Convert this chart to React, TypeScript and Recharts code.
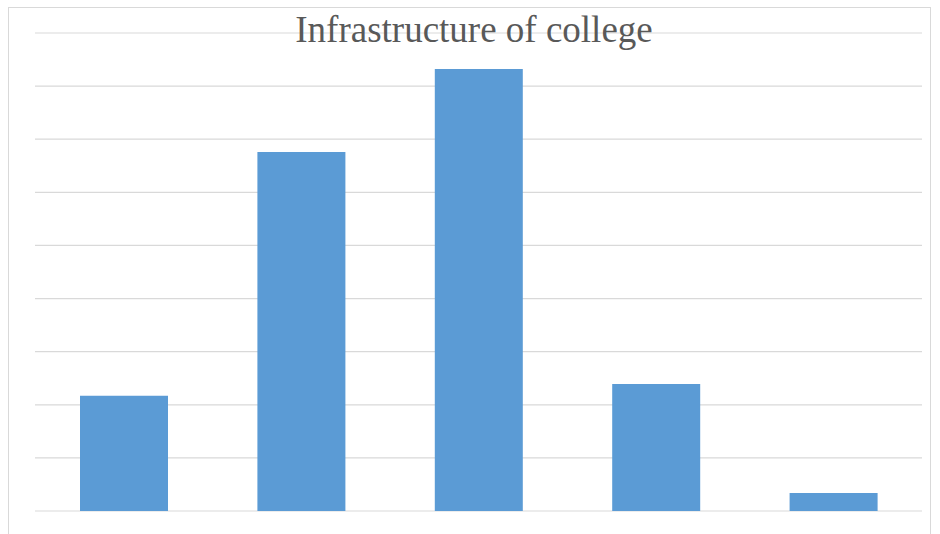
import React from "react";
import { BarChart, Bar, XAxis, YAxis, CartesianGrid } from "recharts";

const categories = ["Category 1", "Category 2", "Category 3", "Category 4", "Category 5"];
const values = [21.7, 67.6, 83.2, 23.9, 3.4];
const yTicks = [0, 10, 20, 30, 40, 50, 60, 70, 80, 90];
const title = "Infrastructure of college";

const data = categories.map((c, i) => ({ name: c, value: values[i] }));

export default function App() {
  return (
    <div style={{ position: "absolute", left: 0, top: 0, width: 940, height: 534, background: "#fff", overflow: "hidden" }}>
      <div
        style={{
          position: "absolute",
          left: 8,
          top: 7,
          width: 923,
          height: 530,
          border: "1px solid #d9d9d9",
          boxSizing: "border-box",
        }}
      />
      <div style={{ position: "absolute", left: 0, top: 0 }}>
        <BarChart
          width={940}
          height={534}
          data={data}
          margin={{ top: 33, right: 18, bottom: 23, left: 35 }}
        >
          <CartesianGrid vertical={false} stroke="#d9d9d9" strokeWidth={1.2} />
          <XAxis dataKey="name" hide />
          <YAxis hide domain={[0, 90]} ticks={yTicks} />
          <Bar dataKey="value" fill="#5B9BD5" barSize={88} isAnimationActive={false} />
        </BarChart>
      </div>
      <svg width={940} height={60} style={{ position: "absolute", left: 0, top: 0 }}>
        <text
          x={474}
          y={42}
          textAnchor="middle"
          fontFamily="'Liberation Serif', 'Times New Roman', serif"
          fontSize={37}
          fill="#595959"
        >
          {title}
        </text>
      </svg>
    </div>
  );
}
